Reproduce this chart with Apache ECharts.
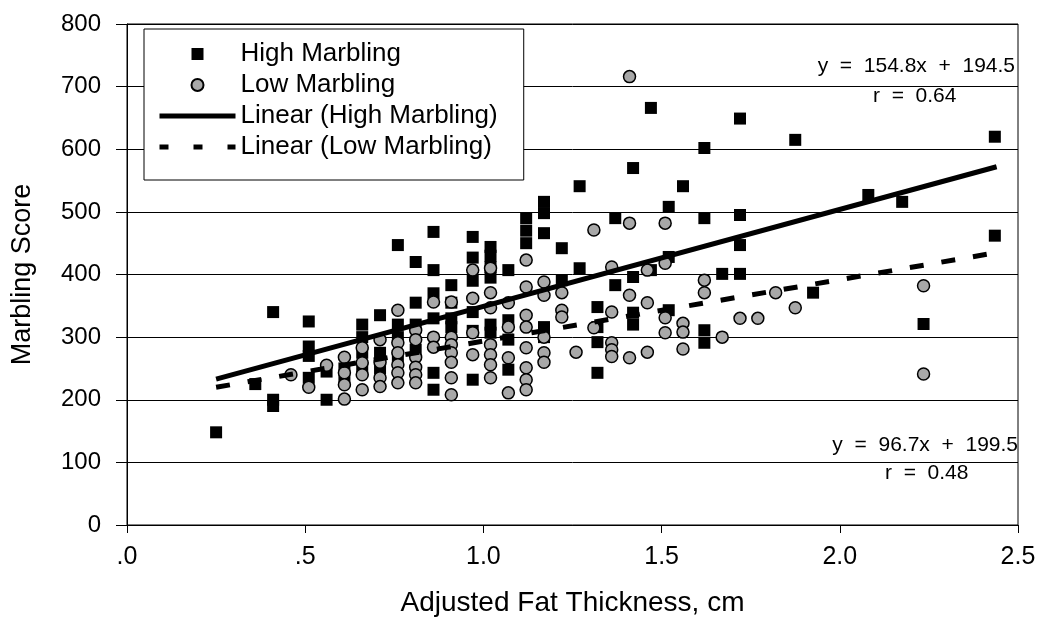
<!DOCTYPE html>
<html><head><meta charset="utf-8">
<script src="https://cdn.jsdelivr.net/npm/echarts@6/dist/echarts.min.js"></script>
<style>html,body{margin:0;padding:0;background:#fff;overflow:hidden}#c{width:1039px;height:618px}</style>
</head><body><div id="c"></div>
<script>
// x (cm), y (score) pairs
const highMarbling = [
 [0.25,148],[0.36,225],[0.41,340],[0.41,200],[0.41,190],
 [0.51,325],[0.51,285],[0.51,270],[0.51,235],[0.56,200],[0.56,245],
 [0.61,250],[0.61,230],[0.66,320],[0.66,300],[0.66,275],[0.66,250],
 [0.71,335],[0.71,275],[0.71,250],[0.76,447],[0.76,320],[0.76,300],[0.76,270],
 [0.81,420],[0.81,355],[0.81,320],[0.81,280],
 [0.86,468],[0.86,407],[0.86,370],[0.86,330],[0.86,243],[0.86,216],
 [0.91,383],[0.91,355],[0.91,330],[0.91,316],
 [0.97,460],[0.97,427],[0.97,390],[0.97,340],[0.97,310],[0.97,232],
 [1.02,444],[1.02,430],[1.02,412],[1.02,395],[1.02,320],[1.02,307],
 [1.07,407],[1.07,327],[1.07,296],[1.07,248],
 [1.12,490],[1.12,470],[1.12,450],
 [1.17,516],[1.17,498],[1.17,466],[1.17,316],[1.17,300],
 [1.22,442],[1.22,391],[1.27,541],[1.27,410],
 [1.32,348],[1.32,316],[1.32,292],[1.32,243],
 [1.37,490],[1.37,383],[1.42,570],[1.42,396],[1.42,339],[1.42,320],
 [1.47,666],[1.47,407],[1.52,508],[1.52,428],[1.52,343],
 [1.56,541],[1.62,602],[1.62,490],[1.62,311],[1.62,291],
 [1.67,401],[1.72,649],[1.72,495],[1.72,447],[1.72,401],
 [1.875,615],[1.925,371],[2.08,527],[2.175,516],[2.235,321],[2.435,620],[2.435,462]
];
const lowMarbling = [
 [0.46,240],[0.51,220],[0.56,255],
 [0.61,268],[0.61,243],[0.61,224],[0.61,201],
 [0.66,283],[0.66,259],[0.66,240],[0.66,216],
 [0.71,296],[0.71,260],[0.71,235],[0.71,221],
 [0.76,343],[0.76,291],[0.76,275],[0.76,256],[0.76,243],[0.76,227],
 [0.81,311],[0.81,296],[0.81,268],[0.81,252],[0.81,240],[0.81,227],
 [0.86,356],[0.86,300],[0.86,284],
 [0.91,356],[0.91,300],[0.91,288],[0.91,275],[0.91,260],[0.91,235],[0.91,208],
 [0.97,407],[0.97,362],[0.97,307],[0.97,272],
 [1.02,410],[1.02,371],[1.02,347],[1.02,288],[1.02,272],[1.02,256],[1.02,235],
 [1.07,355],[1.07,316],[1.07,267],[1.07,211],
 [1.12,423],[1.12,380],[1.12,335],[1.12,316],[1.12,283],[1.12,251],[1.12,232],[1.12,216],
 [1.17,388],[1.17,367],[1.17,300],[1.17,275],[1.17,260],
 [1.22,371],[1.22,343],[1.22,332],[1.26,276],[1.31,471],[1.31,315],
 [1.36,412],[1.36,340],[1.36,291],[1.36,280],[1.36,269],
 [1.41,716],[1.41,482],[1.41,367],[1.41,267],
 [1.46,407],[1.46,355],[1.46,276],
 [1.51,482],[1.51,418],[1.51,331],[1.51,307],
 [1.56,322],[1.56,308],[1.56,281],[1.62,391],[1.62,371],[1.67,300],
 [1.72,330],[1.77,330],[1.82,371],[1.875,347],[2.235,382],[2.235,241]
];
// trend line end points
const linearHigh = [[0.25,233],[2.44,572]];
const linearLow = [[0.25,220],[2.44,435]];
const eqHigh = ['y  =  154.8x  +  194.5', 'r  =  0.64'];
const eqLow = ['y  =  96.7x  +  199.5', 'r  =  0.48'];
const xTicks = {0:'.0',0.5:'.5',1:'1.0',1.5:'1.5',2:'2.0',2.5:'2.5'};

const FONT = 'Liberation Sans, Arial, sans-serif';
const chart = echarts.init(document.getElementById('c'), null, {renderer:'canvas'});
chart.setOption({
  animation:false,
  backgroundColor:'#fff',
  textStyle:{fontFamily:FONT,color:'#000'},
  grid:{left:127,right:21,top:24,bottom:93,show:true,borderColor:'#000',borderWidth:1,
    containLabel:false,outerBoundsMode:'none'},
  xAxis:{type:'value',min:0,max:2.5,interval:0.5,
    name:'Adjusted Fat Thickness, cm',nameLocation:'middle',nameGap:64,
    nameTextStyle:{fontSize:28,color:'#000',fontFamily:FONT},
    axisLine:{lineStyle:{color:'#000',width:1}},
    axisTick:{show:true,length:8,lineStyle:{color:'#000'}},
    axisLabel:{fontSize:25,color:'#000',margin:20,fontFamily:FONT,
      formatter:v=>xTicks[Math.round(v*10)/10] ?? String(v)},
    splitLine:{show:false}},
  yAxis:{type:'value',min:0,max:800,interval:100,
    name:'Marbling Score',nameLocation:'middle',nameGap:91,nameRotate:90,
    nameTextStyle:{fontSize:27,color:'#000',fontFamily:FONT},
    axisLine:{show:true,lineStyle:{color:'#000',width:1}},
    axisTick:{show:true,length:11,lineStyle:{color:'#000'}},
    axisLabel:{fontSize:24,color:'#000',margin:26,fontFamily:FONT},
    splitLine:{show:true,lineStyle:{color:'#000',width:1}}},
  legend:{orient:'vertical',left:144,top:29,
    backgroundColor:'#fff',borderColor:'#000',borderWidth:1,
    padding:[12,26,20,13],itemGap:5,itemWidth:76,itemHeight:12,
    textStyle:{fontSize:26,lineHeight:25,color:'#000',fontFamily:FONT},
    data:[
      {name:'High Marbling',icon:'path://M0,0H10V10H0Z'},
      {name:'Low Marbling',icon:'circle'},
      {name:'Linear (High Marbling)',itemStyle:{opacity:0},lineStyle:{width:5,color:'#000'}},
      {name:'Linear (Low Marbling)',itemStyle:{opacity:0},lineStyle:{width:5,color:'#000',type:[9,25]}}
    ]},
  series:[
    {name:'High Marbling',type:'scatter',data:highMarbling,symbol:'rect',symbolSize:12,
     itemStyle:{color:'#000',opacity:1},z:3},
    {name:'Low Marbling',type:'scatter',data:lowMarbling,symbol:'circle',symbolSize:12,
     itemStyle:{color:'#a8a8a8',borderColor:'#000',borderWidth:1.5,opacity:1},z:4},
    {name:'Linear (High Marbling)',type:'line',data:linearHigh,symbol:'none',
     lineStyle:{color:'#000',width:5},itemStyle:{color:'#000'},z:5},
    {name:'Linear (Low Marbling)',type:'line',data:linearLow,symbol:'none',
     lineStyle:{color:'#000',width:5,type:[14,18]},itemStyle:{color:'#000'},z:5}
  ],
  graphic:[
    {type:'text',right:24,top:56,style:{text:eqHigh[0],font:'21px '+FONT,fill:'#000'}},
    {type:'text',left:873,top:86,style:{text:eqHigh[1],font:'21px '+FONT,fill:'#000'}},
    {type:'text',right:21,top:435,style:{text:eqLow[0],font:'21px '+FONT,fill:'#000'}},
    {type:'text',left:885,top:463,style:{text:eqLow[1],font:'21px '+FONT,fill:'#000'}}
  ]
});
</script></body></html>
